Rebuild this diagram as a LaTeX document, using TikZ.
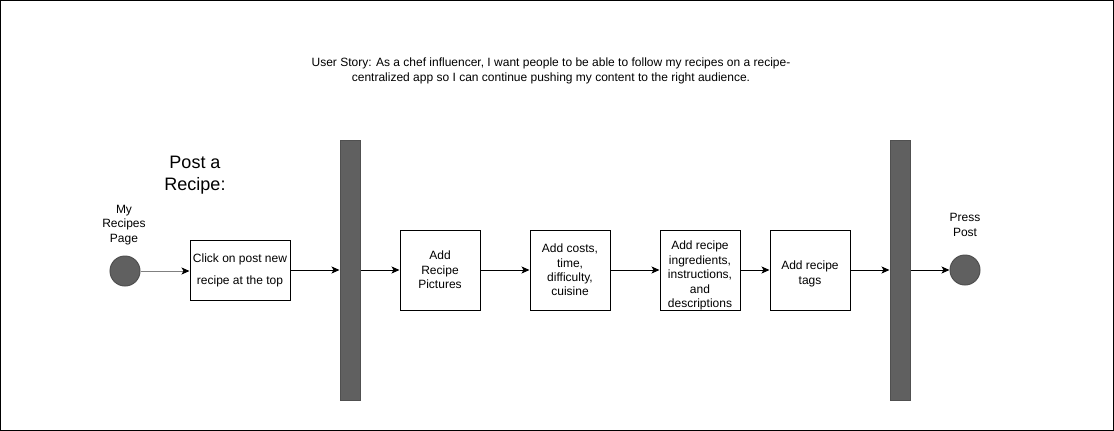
\documentclass[tikz,border=0pt]{standalone}
\usepackage{fontspec}
\setmainfont{Liberation Sans}
\usetikzlibrary{arrows.meta,positioning}
\definecolor{bargray}{RGB}{96,96,96}
\definecolor{rimgray}{RGB}{80,80,80}
\tikzset{
  stepbox/.style={draw, line width=1pt, minimum width=80pt, minimum height=80pt, inner sep=0pt, align=center, font=\fontsize{12}{14.4}\selectfont},
  forkbar/.style={draw=rimgray, line width=1pt, fill=bargray, minimum width=20pt, minimum height=260pt, inner sep=0pt},
  endpoint/.style={circle, draw=rimgray, line width=1pt, fill=bargray, minimum size=30pt, inner sep=0pt},
  caption/.style={align=center, font=\fontsize{12}{14.4}\selectfont},
  flow/.style={-{Stealth[length=8pt,width=7pt,inset=2pt]}, line width=1pt}
}
\begin{document}
\begin{tikzpicture}[x=1pt, y=-1pt]
  \useasboundingbox (0,0) rectangle (1114,431);
  \draw[line width=1pt] (0.5,0.5) rectangle (1113.5,430.5);

  \node[align=center, font=\fontsize{12}{15}\selectfont] (story) at (551,71)
    {User Story: As a chef influencer, I want people to be able to follow my recipes on a recipe-\\
     centralized app so I can continue pushing my content to the right audience.};
  \node[align=center, font=\fontsize{18}{22.5}\selectfont] (title) at (195,175) {Post a\\Recipe:};

  \node[endpoint] (start) at (125,271) {};
  \node[caption] (startlabel) at (124,225) {My\\Recipes\\Page};
  \node[stepbox, minimum width=100pt, minimum height=60pt] (click) at (240,270)
    {Click on post new\\[7.6pt]recipe at the top};
  \node[forkbar] (fork) at (350,270) {};
  \node[stepbox] (pictures) at (440,270) {Add\\Recipe\\Pictures};
  \node[stepbox] (details) at (570,270) {Add costs,\\time,\\difficulty,\\cuisine};
  \node[stepbox] (ingredients) at (700,270) {};
  \node[caption, inner sep=0pt] (ingredientstext) at (700,275.5)
    {Add recipe\\ingredients,\\instructions,\\and\\descriptions};
  \node[stepbox] (tags) at (810,270) {};
  \node[caption, inner sep=0pt] (tagstext) at (810,274) {Add recipe\\tags};
  \node[forkbar] (join) at (900,270) {};
  \node[endpoint] (finish) at (965,270) {};
  \node[caption] (finishlabel) at (965,225) {Press\\Post};

  \draw[flow, draw=gray, -{Stealth[length=8pt,width=7pt,inset=2pt,black]}] (start) -- (click.west |- start);
  \draw[flow] (click) -- (fork.west |- click);
  \draw[flow] (fork.east |- pictures) -- (pictures);
  \draw[flow] (pictures) -- (details);
  \draw[flow] (details) -- (ingredients);
  \draw[flow] (ingredients) -- (tags);
  \draw[flow] (tags) -- (join.west |- tags);
  \draw[flow] (join.east |- finish) -- (finish);
\end{tikzpicture}
\end{document}
